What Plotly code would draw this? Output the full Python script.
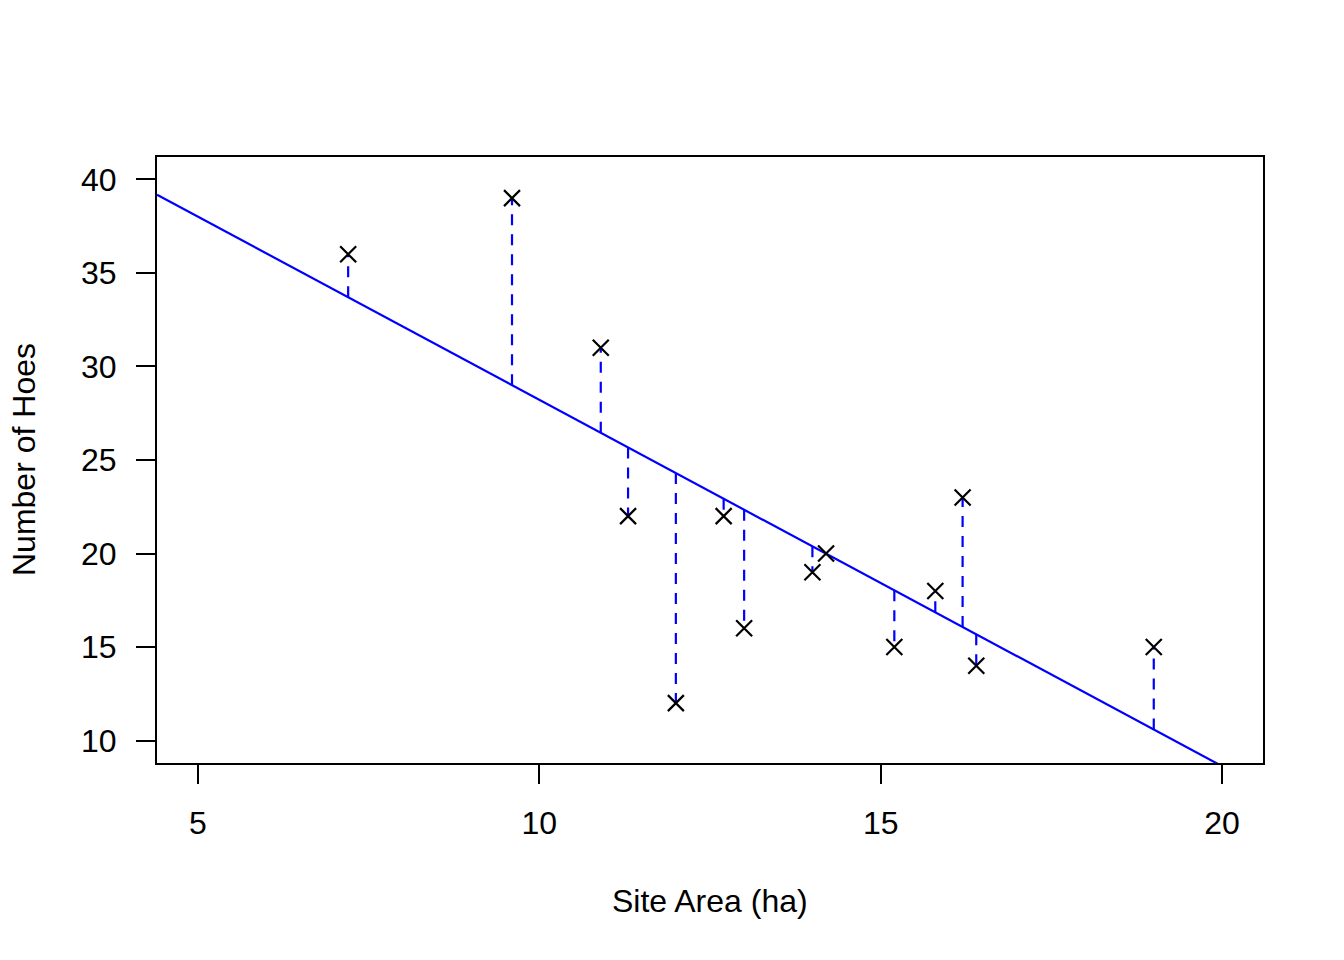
import numpy as np
import plotly.graph_objects as go

site_area = [7.2, 9.6, 10.9, 11.3, 12.0, 12.7, 13.0, 14.0, 14.2, 15.2, 15.8, 16.2, 16.4, 19.0]
num_hoes = [36, 39, 31, 22, 12, 22, 16, 19, 20, 15, 18, 23, 14, 15]
x_ticks = [5, 10, 15, 20]
y_ticks = [10, 15, 20, 25, 30, 35, 40]
x_lim = [5, 20]
y_lim = [10, 40]

slope, intercept = np.polyfit(site_area, num_hoes, 1)

def ext(lim):
    d = (lim[1] - lim[0]) * 0.04
    return [lim[0] - d, lim[1] + d]

xr = ext(x_lim)
yr = ext(y_lim)

fig = go.Figure()

# residual segments
seg_x, seg_y = [], []
for xv, yv in zip(site_area, num_hoes):
    seg_x += [xv, xv, None]
    seg_y += [intercept + slope * xv, yv, None]
fig.add_trace(go.Scatter(x=seg_x, y=seg_y, mode="lines",
                         line=dict(color="blue", width=2.2, dash="11px,9px"),
                         hoverinfo="skip", showlegend=False))

# regression line
fig.add_trace(go.Scatter(x=xr, y=[intercept + slope * v for v in xr], mode="lines",
                         line=dict(color="blue", width=2.2), showlegend=False))

# points
fig.add_trace(go.Scatter(x=site_area, y=num_hoes, mode="markers",
                         marker=dict(symbol="x-thin", size=16, color="black",
                                     line=dict(color="black", width=2.2)),
                         showlegend=False))

font = dict(family="Liberation Sans, Arial, Helvetica, sans-serif", size=32, color="black")

fig.update_layout(
    width=1344, height=960,
    margin=dict(l=157, r=81, t=157, b=197),
    paper_bgcolor="white", plot_bgcolor="white",
    font=font,
    xaxis=dict(range=xr, tickvals=x_ticks, ticks="outside", ticklen=19, tickwidth=2,
               tickcolor="black", showline=True, linecolor="black", linewidth=2,
               mirror=True, showgrid=False, zeroline=False, ticklabelstandoff=12),
    yaxis=dict(range=yr, tickvals=y_ticks, ticks="outside", ticklen=19, tickwidth=2,
               tickcolor="black", showline=True, linecolor="black", linewidth=2,
               mirror=True, showgrid=False, zeroline=False, ticklabelstandoff=13),
    annotations=[
        dict(text="Site Area (ha)", xref="paper", yref="paper", x=0.5, y=0,
             yshift=-138, showarrow=False, font=font, yanchor="middle", xanchor="center"),
        dict(text="Number of Hoes", xref="paper", yref="paper", x=0, y=0.5,
             xshift=-133, showarrow=False, font=font, textangle=-90,
             xanchor="center", yanchor="middle"),
    ],
)

fig.write_html("out.html", config={"displayModeBar": False},
               post_script="document.body.style.margin='0';document.body.style.overflow='hidden';")
